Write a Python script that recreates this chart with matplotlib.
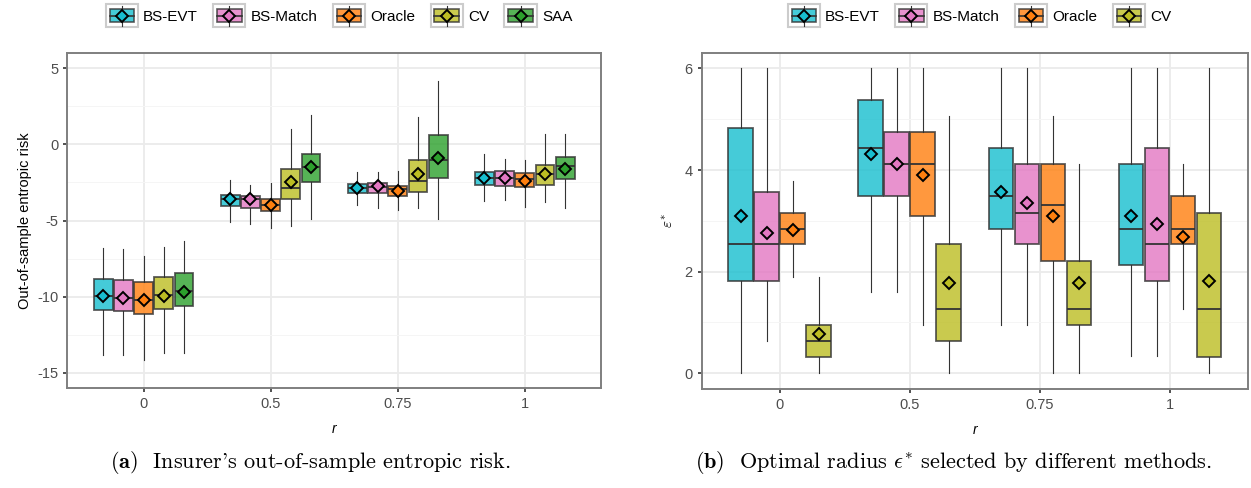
import matplotlib
matplotlib.use("Agg")
import matplotlib.pyplot as plt
from matplotlib.legend_handler import HandlerBase
from matplotlib.patches import Rectangle, Patch
from matplotlib.lines import Line2D
from matplotlib.ticker import MultipleLocator

# ---- data -------------------------------------------------------------
r_labels = ["0", "0.5", "0.75", "1"]
methods_a = ["BS-EVT", "BS-Match", "Oracle", "CV", "SAA"]
methods_b = ["BS-EVT", "BS-Match", "Oracle", "CV"]
colors = {"BS-EVT": "#17becf", "BS-Match": "#e377c2", "Oracle": "#ff7f0e",
          "CV": "#bcbd22", "SAA": "#2ca02c"}

# (a) out-of-sample entropic risk, rows = methods_a, cols = r
risk_lo = [[-13.84, -5.09, -4.00, -3.73],
           [-13.86, -5.24, -4.15, -3.67],
           [-14.15, -5.46, -4.32, -4.10],
           [-13.71, -5.35, -4.17, -3.78],
           [-13.71, -4.93, -4.91, -4.21]]
risk_q1 = [[-10.87, -4.06, -3.21, -2.70],
           [-10.96, -4.15, -3.19, -2.75],
           [-11.11, -4.37, -3.41, -2.80],
           [-10.78, -3.60, -3.14, -2.64],
           [-10.61, -2.49, -2.20, -2.25]]
risk_med = [[-9.98, -3.60, -2.84, -2.23],
            [-10.10, -3.62, -2.80, -2.22],
            [-10.24, -3.95, -2.95, -2.25],
            [-9.91, -2.84, -2.42, -1.97],
            [-9.61, -1.49, -1.05, -1.40]]
risk_q3 = [[-8.82, -3.30, -2.62, -1.79],
           [-8.93, -3.38, -2.53, -1.75],
           [-9.06, -3.60, -2.73, -1.88],
           [-8.71, -1.59, -1.00, -1.33],
           [-8.43, -0.61, 0.61, -0.83]]
risk_hi = [[-6.83, -2.36, -1.83, -0.65],
           [-6.90, -2.69, -1.79, -0.98],
           [-7.33, -2.53, -1.77, -1.05],
           [-6.75, 0.98, 1.77, 0.65],
           [-6.35, 1.96, 4.15, 0.65]]
risk_mean = [[-9.98, -3.60, -2.84, -2.23],
             [-10.10, -3.60, -2.75, -2.20],
             [-10.24, -4.00, -3.08, -2.42],
             [-9.93, -2.47, -1.92, -1.97],
             [-9.69, -1.49, -0.87, -1.64]]

# (b) optimal radius, rows = methods_b, cols = r
eps_lo = [[0.00, 1.59, 0.95, 0.33],
          [0.64, 1.59, 0.95, 0.33],
          [1.90, 0.95, 0.00, 1.27],
          [0.00, 0.00, 0.00, 0.00]]
eps_q1 = [[1.82, 3.48, 2.84, 2.13],
          [1.82, 3.48, 2.54, 1.82],
          [2.54, 3.10, 2.21, 2.54],
          [0.31, 0.63, 0.94, 0.31]]
eps_med = [[2.54, 4.43, 3.48, 2.84],
           [2.54, 4.11, 3.16, 2.54],
           [2.84, 4.11, 3.32, 2.84],
           [0.63, 1.27, 1.27, 1.27]]
eps_q3 = [[4.82, 5.38, 4.43, 4.11],
          [3.56, 4.74, 4.11, 4.43],
          [3.16, 4.74, 4.11, 3.48],
          [0.94, 2.54, 2.21, 3.16]]
eps_hi = [[6.00, 6.00, 6.00, 6.00],
          [6.00, 6.00, 6.00, 6.00],
          [3.79, 6.00, 5.06, 4.11],
          [1.89, 5.06, 4.11, 6.00]]
eps_mean = [[3.10, 4.32, 3.57, 3.10],
            [2.76, 4.11, 3.35, 2.93],
            [2.82, 3.90, 3.10, 2.69],
            [0.78, 1.77, 1.77, 1.82]]

EDGE = "#333333"
ALPHA = 0.8


def draw_boxes(ax, methods, lo, q1, med, q3, hi, mean, slot):
    n = len(methods)
    for i, m in enumerate(methods):
        offs = (i - (n - 1) / 2) * slot
        stats = []
        for j in range(len(r_labels)):
            stats.append(dict(whislo=lo[i][j], q1=q1[i][j], med=med[i][j],
                              q3=q3[i][j], whishi=hi[i][j], mean=mean[i][j]))
        pos = [j + offs for j in range(len(r_labels))]
        ax.bxp(stats, positions=pos, widths=slot * 0.93, patch_artist=True,
               showmeans=True, showcaps=False, showfliers=False,
               manage_ticks=False,
               boxprops=dict(facecolor=colors[m], alpha=ALPHA, edgecolor=EDGE, linewidth=1.3),
               medianprops=dict(color=EDGE, linewidth=1.3),
               whiskerprops=dict(color=EDGE, linewidth=0.8),
               meanprops=dict(marker="D", markerfacecolor=colors[m], markeredgecolor="black",
                              markersize=6.5, markeredgewidth=1.4))


def style(ax, ylim, major, minor):
    ax.set_xlim(-0.6, 3.6)
    ax.set_ylim(*ylim)
    ax.set_xticks(range(len(r_labels)))
    ax.set_xticklabels(r_labels)
    ax.yaxis.set_major_locator(MultipleLocator(major))
    ax.yaxis.set_minor_locator(MultipleLocator(minor))
    ax.grid(True, which="major", color="#EBEBEB", linewidth=1.3)
    ax.grid(True, which="minor", axis="y", color="#F5F5F5", linewidth=0.7)
    ax.set_axisbelow(True)
    for s in ax.spines.values():
        s.set_color("#7F7F7F")
        s.set_linewidth(1.4)
    ax.tick_params(which="major", length=3, width=1.2, color="#333333",
                   labelcolor="#4D4D4D", labelsize=10.5)
    ax.tick_params(which="minor", length=0)
    ax.set_xlabel("r", style="italic", fontsize=10, labelpad=8)


class BoxKeyHandler(HandlerBase):
    def create_artists(self, legend, orig_handle, xdescent, ydescent,
                       width, height, fontsize, trans):
        x0, y0 = -xdescent, -ydescent
        c = orig_handle.get_facecolor()
        bg = Rectangle((x0, y0), width, height, facecolor="white",
                       edgecolor="#CCCCCC", linewidth=1.5, transform=trans)
        whisk = Line2D([x0 + width / 2] * 2, [y0 + 1, y0 + height - 1],
                       color=EDGE, linewidth=0.8, transform=trans)
        box = Rectangle((x0 + width * 0.12, y0 + height * 0.22), width * 0.76, height * 0.56,
                        facecolor=c, alpha=ALPHA, edgecolor=EDGE, linewidth=1.2,
                        transform=trans)
        medl = Line2D([x0 + width * 0.12, x0 + width * 0.88], [y0 + height / 2] * 2,
                      color=EDGE, linewidth=1.2, transform=trans)
        dia = Line2D([x0 + width / 2], [y0 + height / 2], marker="D", markersize=6,
                     markerfacecolor=c, markeredgecolor="black", markeredgewidth=1.4,
                     transform=trans)
        return [bg, whisk, box, medl, dia]


def add_legend(fig, methods, xc):
    handles = [Patch(facecolor=colors[m]) for m in methods]
    fig.legend(handles, methods, loc="center", bbox_to_anchor=(xc, 0.968),
               ncol=len(methods), frameon=False, fontsize=11,
               handler_map={Patch: BoxKeyHandler()},
               handlelength=2.1, handleheight=1.9, handletextpad=0.35,
               columnspacing=1.0, borderaxespad=0)


plt.rcParams["font.family"] = ["Liberation Sans", "DejaVu Sans"]
plt.rcParams["mathtext.fontset"] = "cm"
plt.rcParams["axes.unicode_minus"] = False

fig = plt.figure(figsize=(12.51, 4.88), dpi=100)
ax1 = fig.add_axes([0.0539, 0.2049, 0.4265, 0.6865])
ax2 = fig.add_axes([0.5608, 0.2029, 0.4365, 0.6891])

draw_boxes(ax1, methods_a, risk_lo, risk_q1, risk_med, risk_q3, risk_hi, risk_mean, 0.159)
style(ax1, (-16, 6), 5, 2.5)
ax1.set_ylabel("Out-of-sample entropic risk", fontsize=10.5, labelpad=4)

draw_boxes(ax2, methods_b, eps_lo, eps_q1, eps_med, eps_q3, eps_hi, eps_mean, 0.2)
style(ax2, (-0.31, 6.31), 2, 1)
ax2.set_ylabel(r"$\varepsilon^{*}$", fontsize=11, labelpad=6)

add_legend(fig, methods_a, 0.271)
add_legend(fig, methods_b, 0.783)

fig.text(0.248, 0.052, r"$\mathbf{(a)}$  Insurer's out-of-sample entropic risk.",
         fontfamily="cmr10", fontsize=16, ha="center", va="center")
fig.text(0.762, 0.052, r"$\mathbf{(b)}$  Optimal radius $\epsilon^{*}$ selected by different methods.",
         fontfamily="cmr10", fontsize=16, ha="center", va="center")

fig.savefig("out.png", dpi=100)
